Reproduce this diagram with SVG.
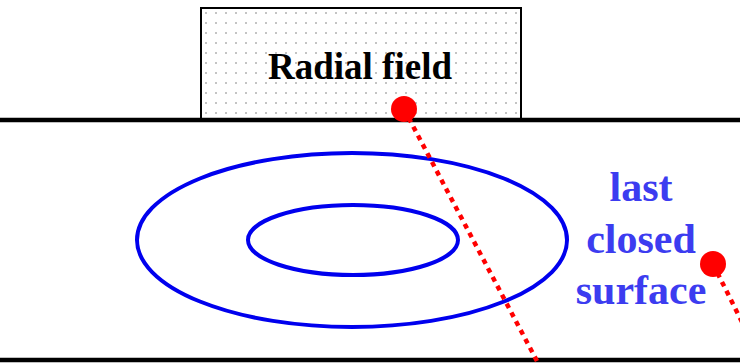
<svg xmlns="http://www.w3.org/2000/svg" width="740" height="363" viewBox="0 0 740 363">
<defs>
<pattern id="dots" x="201" y="8" width="10" height="10" patternUnits="userSpaceOnUse">
<rect x="4" y="4" width="2" height="2" fill="#c4c4c4"/>
</pattern>
</defs>
<style>
.wall{stroke:#000;stroke-width:4.5;fill:none}
.flux{stroke:#0000ee;stroke-width:4;fill:none}
.ray{stroke:#ff0000;stroke-width:4.5;stroke-dasharray:5 5;fill:none}
.pt{fill:#ff0000}
.lbl{font-family:"Liberation Serif",serif;font-weight:bold;text-anchor:middle}
</style>
<rect width="740" height="363" fill="#fff"/>
<g id="box">
<rect x="201" y="8" width="320" height="112" fill="#fff"/>
<rect x="201" y="8" width="320" height="112" fill="url(#dots)" stroke="#000" stroke-width="2"/>
<text class="lbl" x="360" y="79" font-size="37" fill="#000">Radial field</text>
</g>
<g id="walls">
<line class="wall" x1="0" y1="120" x2="740" y2="120"/>
<line class="wall" x1="0" y1="360" x2="740" y2="360"/>
</g>
<g id="surfaces">
<ellipse class="flux" cx="352" cy="240" rx="215" ry="87"/>
<ellipse class="flux" cx="353" cy="240" rx="105" ry="35"/>
</g>
<g id="label">
<text class="lbl" font-size="42" fill="#3c3cf0"><tspan x="641" y="201">last</tspan><tspan x="641" y="253">closed</tspan><tspan x="641" y="304">surface</tspan></text>
</g>
<g id="connectors">
<line class="ray" x1="404" y1="109" x2="538" y2="363"/>
<line class="ray" x1="713" y1="264" x2="742" y2="322"/>
</g>
<g id="dot1"><circle class="pt" cx="404" cy="109" r="13"/></g>
<g id="dot2"><circle class="pt" cx="713" cy="264" r="13"/></g>
</svg>
